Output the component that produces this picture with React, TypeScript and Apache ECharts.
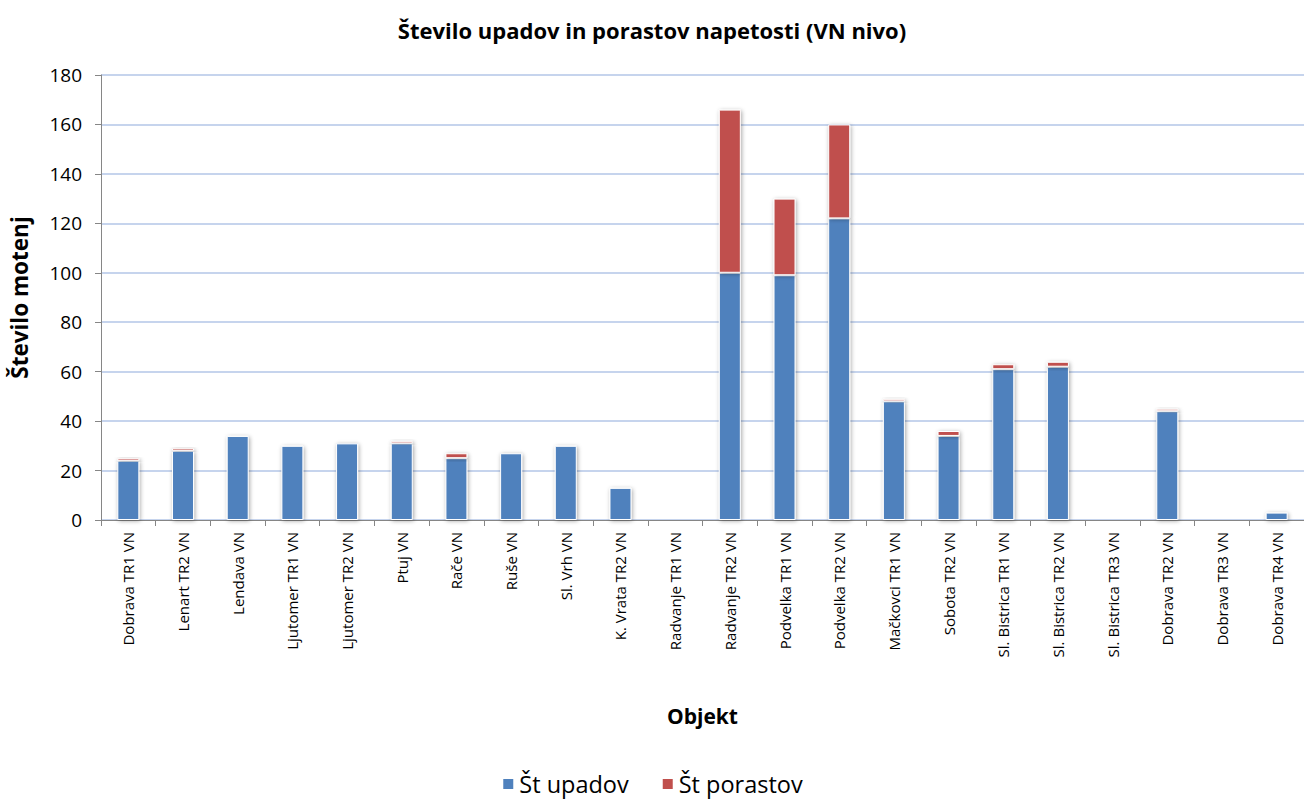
import React, { useEffect, useRef } from "react";
import * as echarts from "echarts";

const categories = [
  "Dobrava TR1 VN", "Lenart TR2 VN", "Lendava VN", "Ljutomer TR1 VN", "Ljutomer TR2 VN",
  "Ptuj VN", "Rače VN", "Ruše VN", "Sl. Vrh VN", "K. Vrata TR2 VN", "Radvanje TR1 VN",
  "Radvanje TR2 VN", "Podvelka TR1 VN", "Podvelka TR2 VN", "Mačkovci TR1 VN", "Sobota TR2 VN",
  "Sl. Bistrica TR1 VN", "Sl. Bistrica TR2 VN", "Sl. Bistrica TR3 VN", "Dobrava TR2 VN",
  "Dobrava TR3 VN", "Dobrava TR4 VN",
];
const upadov = [24, 28, 34, 30, 31, 31, 25, 27, 30, 13, 0, 100, 99, 122, 48, 34, 61, 62, 0, 44, 0, 3];
const porastov = [1, 1, 0, 0, 0, 1, 2, 0, 0, 0, 0, 66, 31, 38, 1, 2, 2, 2, 0, 1, 0, 0];
const yTicks = { min: 0, max: 180, interval: 20 };

const FONT = "'Open Sans', 'Noto Sans', sans-serif";

export default function App() {
  const ref = useRef<HTMLDivElement>(null);
  useEffect(() => {
    const chart = echarts.init(ref.current!, null, { renderer: "svg" });
    const itemStyleBase = {
      borderColor: "#ffffff",
      borderWidth: 1,
      shadowColor: "rgba(0,0,0,0.35)",
      shadowBlur: 4,
      shadowOffsetX: 1,
      shadowOffsetY: 1,
    };
    chart.setOption({
      animation: false,
      backgroundColor: "#ffffff",
      title: {
        text: "Število upadov in porastov napetosti (VN nivo)",
        left: "center",
        top: 14,
        textStyle: { fontFamily: FONT, fontWeight: "bold", fontSize: 22, color: "#000" },
      },
      grid: { left: 99, right: 0, top: 75, bottom: 281 },
      legend: {
        bottom: 0,
        left: "center",
        itemWidth: 12,
        itemHeight: 12,
        itemGap: 32,
        icon: "rect",
        textStyle: { fontFamily: FONT, fontSize: 23.5, color: "#000" },
        data: ["Št upadov", "Št porastov"],
      },
      xAxis: {
        type: "category",
        data: categories,
        name: "Objekt",
        nameLocation: "middle",
        nameGap: 185,
        nameTextStyle: { fontFamily: FONT, fontWeight: "bold", fontSize: 21, color: "#000" },
        axisLine: { lineStyle: { color: "#868686", width: 1 } },
        axisTick: { show: true, length: 6, lineStyle: { color: "#868686" } },
        axisLabel: { rotate: 90, fontFamily: FONT, fontSize: 15, color: "#000", margin: 12 },
      },
      yAxis: {
        type: "value",
        min: yTicks.min,
        max: yTicks.max,
        interval: yTicks.interval,
        name: "Število motenj",
        nameLocation: "middle",
        nameGap: 70,
        nameRotate: 90,
        nameTextStyle: { fontFamily: FONT, fontWeight: "bold", fontSize: 22.5, color: "#000" },
        axisLine: { show: true, lineStyle: { color: "#868686" } },
        axisTick: { show: true, length: 6, lineStyle: { color: "#868686" } },
        axisLabel: { fontFamily: FONT, fontSize: 19, color: "#000", margin: 19 },
        splitLine: { lineStyle: { color: "#B3C6E7", width: 1.5 } },
      },
      series: [
        {
          name: "Št upadov",
          type: "bar",
          stack: "total",
          barWidth: 22,
          data: upadov,
          itemStyle: { ...itemStyleBase, color: "#4F81BD" },
        },
        {
          name: "Št porastov",
          type: "bar",
          stack: "total",
          barWidth: 22,
          data: porastov,
          itemStyle: { ...itemStyleBase, color: "#C0504D" },
        },
      ],
    });
    return () => chart.dispose();
  }, []);
  return <div ref={ref} style={{ width: 1304, height: 801, position: "absolute", left: 0, top: 0 }} />;
}
